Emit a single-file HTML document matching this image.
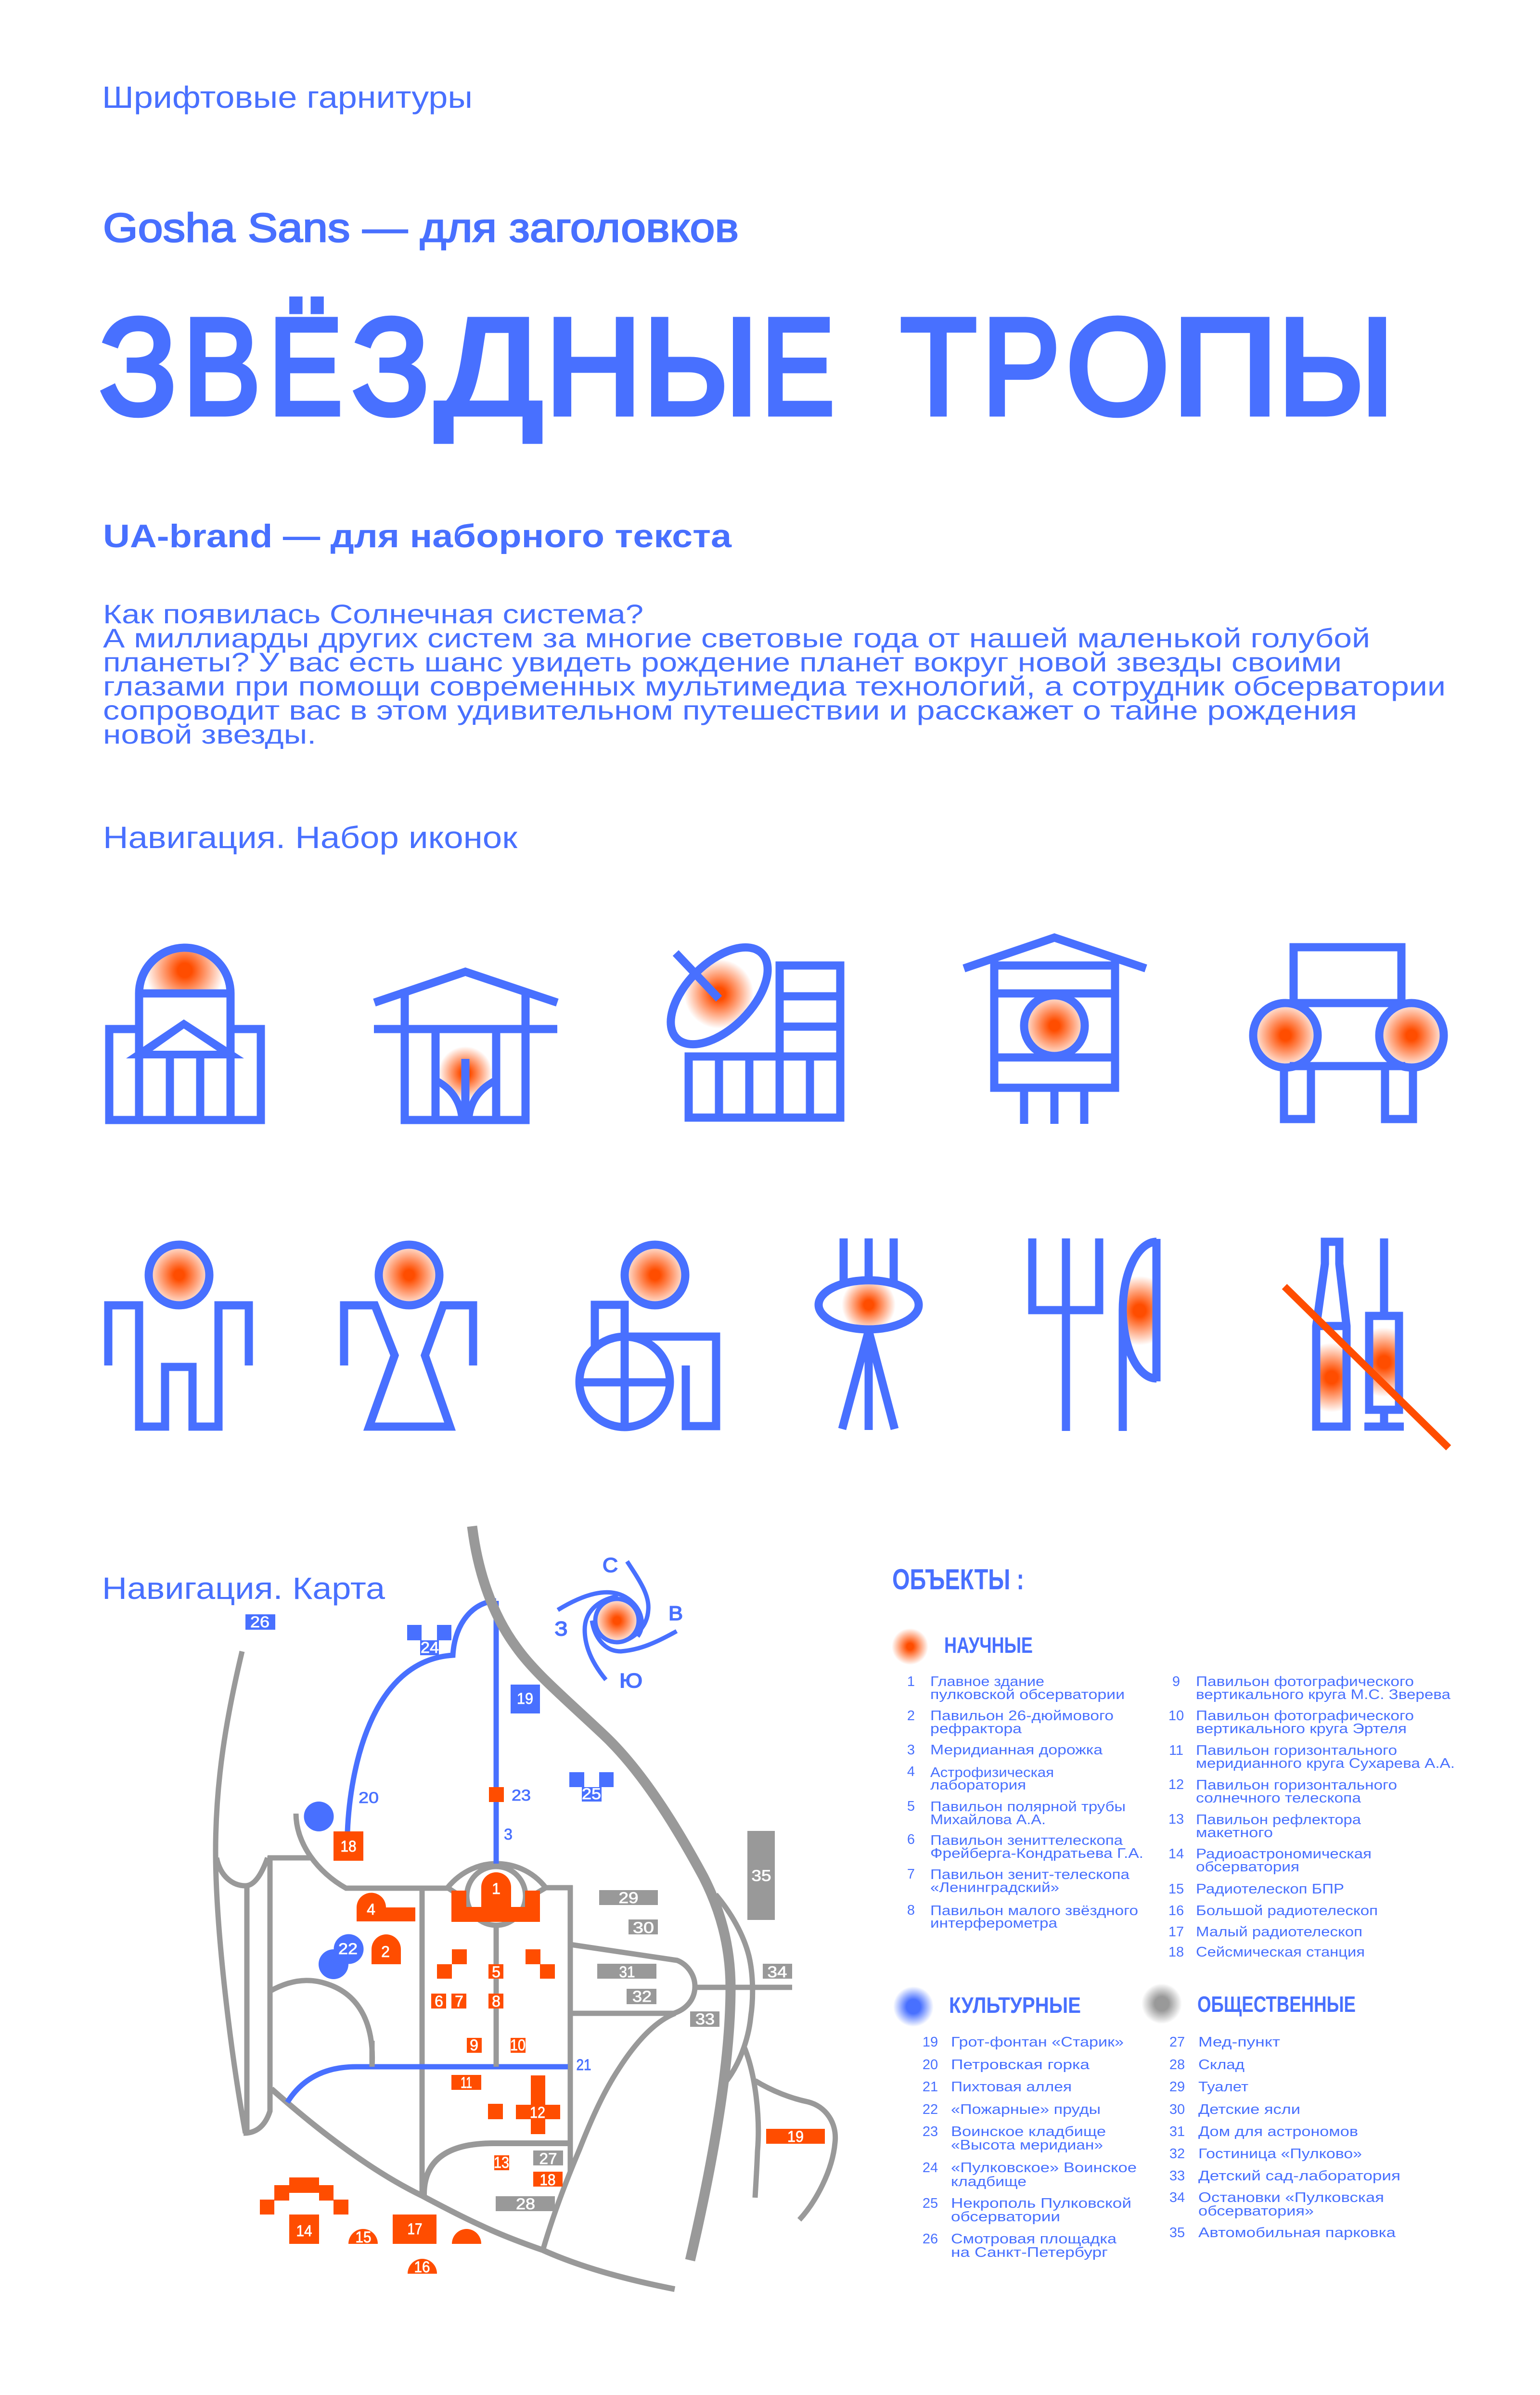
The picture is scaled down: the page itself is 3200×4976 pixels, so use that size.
<!DOCTYPE html>
<html lang="ru"><head><meta charset="utf-8"><title>Звёздные тропы</title>
<style>
html,body{margin:0;padding:0;background:#fff}
svg{display:block;position:absolute;left:0;top:0}
text{font-family:"Liberation Sans","Noto Sans CJK SC",sans-serif;fill:#4870ff}
.w{fill:#fff;font-size:32px;text-anchor:middle;stroke:#fff;stroke-width:.8}
.b{font-size:32px;text-anchor:middle;stroke:#4870ff;stroke-width:.8}
.l{font-size:29px}
.n{font-size:29px;text-anchor:middle}
.p{font-size:56px}
.h{font-weight:bold}
.c{font-size:42px;text-anchor:middle;stroke:#4870ff;stroke-width:1.8}
.t text{font-size:285px;stroke:#4870ff;stroke-width:11}
.i{fill:none;stroke:#4870ff;stroke-width:17}
.g{fill:none;stroke:#999;stroke-width:11}
.o{fill:#ff4d00}.u{fill:#4870ff}.y{fill:#999}
</style></head><body>
<svg xmlns="http://www.w3.org/2000/svg" width="3200" height="4976" viewBox="0 0 3200 4976">
<defs>
<radialGradient id="g"><stop offset="0" stop-color="#ff4d00"/><stop offset=".18" stop-color="#ff4d00"/><stop offset="1" stop-color="#ff4d00" stop-opacity="0"/></radialGradient>
<radialGradient id="gh"><stop offset="0" stop-color="#ff4d00"/><stop offset=".18" stop-color="#ff4d00"/><stop offset="1" stop-color="#ff4d00" stop-opacity=".15"/></radialGradient>
<radialGradient id="gb"><stop offset="0" stop-color="#4870ff"/><stop offset=".35" stop-color="#4870ff"/><stop offset="1" stop-color="#4870ff" stop-opacity="0"/></radialGradient>
<radialGradient id="gg"><stop offset="0" stop-color="#999"/><stop offset=".35" stop-color="#999"/><stop offset="1" stop-color="#999" stop-opacity="0"/></radialGradient>
<clipPath id="cDome"><path d="M289 2060A95 91 0 0 1 479 2060Z"/></clipPath>
<clipPath id="cFount"><path d="M905 2150H1031V2244Q975 2270 967 2327Q959 2270 905 2244Z"/></clipPath>
<clipPath id="cDish"><ellipse cx="1494.5" cy="2069" rx="125" ry="68" transform="rotate(-45 1494.5 2069)"/></clipPath>
<clipPath id="cEye"><ellipse cx="1805" cy="2711" rx="104" ry="51"/></clipPath>
<clipPath id="cKnife"><path d="M2403 2580A70 143 0 0 0 2403 2864Z"/></clipPath>
<clipPath id="cBottle"><rect x="2735" y="2755" width="63" height="209"/></clipPath>
<clipPath id="cSyr"><rect x="2845" y="2734" width="62" height="195"/></clipPath>
</defs>

<!-- headings -->
<text x="212" y="224" font-size="64" textLength="770" lengthAdjust="spacingAndGlyphs">Шрифтовые гарнитуры</text>
<text x="214" y="502" font-size="84" textLength="1321" lengthAdjust="spacingAndGlyphs" stroke="#4870ff" stroke-width="2.5">Gosha Sans — для заголовков</text>
<g class="t"><text transform="translate(206 860) scale(.94 1)">З</text><text transform="translate(380 860) scale(.85 1)">В</text><text transform="translate(558 860) scale(.81 1)">Ё</text><text transform="translate(731 860) scale(.94 1)">З</text><text transform="translate(905 860) scale(1.15 1)">Д</text><text transform="translate(1133 860) scale(.975 1)">Н</text><text transform="translate(1336 860) scale(.95 1)">Ы</text><text transform="translate(1582 860) scale(.8 1)">Е</text> <text transform="translate(1871 860) scale(.91 1)">Т</text><text transform="translate(2041 860) scale(.85 1)">Р</text><text transform="translate(2215 860) scale(.97 1)">О</text><text transform="translate(2435 860) scale(1.08 1)">П</text><text transform="translate(2655 860) scale(.96 1)">Ы</text></g>
<text x="214" y="1137" font-size="68" class="h" textLength="1306" lengthAdjust="spacingAndGlyphs">UA-brand — для наборного текста</text>
<text class="p" x="214" y="1295" textLength="1123" lengthAdjust="spacingAndGlyphs">Как появилась Солнечная система?</text>
<text class="p" x="214" y="1345" textLength="2633" lengthAdjust="spacingAndGlyphs">А миллиарды других систем за многие световые года от нашей маленькой голубой</text>
<text class="p" x="214" y="1395" textLength="2574" lengthAdjust="spacingAndGlyphs">планеты? У вас есть шанс увидеть рождение планет вокруг новой звезды своими</text>
<text class="p" x="214" y="1445" textLength="2790" lengthAdjust="spacingAndGlyphs">глазами при помощи современных мультимедиа технологий, а сотрудник обсерватории</text>
<text class="p" x="214" y="1495" textLength="2606" lengthAdjust="spacingAndGlyphs">сопроводит вас в этом удивительном путешествии и расскажет о тайне рождения</text>
<text class="p" x="214" y="1545" textLength="443" lengthAdjust="spacingAndGlyphs">новой звезды.</text>
<text x="214" y="1762" font-size="64" textLength="861" lengthAdjust="spacingAndGlyphs">Навигация. Набор иконок</text>

<!-- icon 1 -->
<circle cx="384" cy="2016" r="82" fill="url(#g)" clip-path="url(#cDome)"/>
<path class="i" d="M289 2075V2064A95 95 0 0 1 479 2064V2075M281 2064H487M289 2064V2335M479 2064V2335M281 2138H227V2327H542V2138H487M353 2195V2327M416 2195V2327"/>
<path class="u" fill-rule="evenodd" d="M382 2118L507 2199H262ZM382 2137L317 2183H451Z" />
<!-- icon 2 -->
<circle cx="967" cy="2230" r="56" fill="url(#g)" clip-path="url(#cFount)"/>
<path class="i" d="M778 2083L967 2019L1158 2083M777 2138H1158M841 2055V2327H1092V2055M905 2138V2327M1031 2138V2327M967 2200V2327"/>
<path class="i" style="stroke-width:15" d="M905 2244Q955 2270 960 2325M1031 2244Q979 2270 974 2325"/>
<!-- icon 3 -->
<circle cx="1494" cy="2065" r="72" fill="url(#g)" clip-path="url(#cDish)"/>
<ellipse class="i" cx="1494.5" cy="2069" rx="125" ry="68" transform="rotate(-45 1494.5 2069)"/>
<path class="i" d="M1404 1980L1494 2075"/>
<path class="i" d="M1620 2195V2006H1746V2322H1431V2195H1746M1620 2070H1746M1620 2133H1746M1494 2195V2322M1557 2195V2322M1620 2195V2322M1683 2195V2322"/>
<!-- icon 4 -->
<circle cx="2191" cy="2131" r="60" fill="url(#gh)"/>
<path class="i" d="M2003 2012L2191 1948L2381 2012M2066 1990V2260H2317V1990M2066 2006H2317M2066 2064H2317M2066 2197H2317M2128 2260V2335M2191 2260V2335M2253 2260V2335"/>
<circle class="i" cx="2191" cy="2131" r="63"/>
<!-- icon 5 -->
<circle cx="2671" cy="2151" r="62" fill="url(#gh)"/><circle cx="2933" cy="2151" r="62" fill="url(#gh)"/>
<path class="i" d="M2688 2084V1968H2912V2084M2680 2084H2920M2680 2215H2920M2668 2215V2325H2724V2215M2878 2215V2325H2936V2215"/>
<circle class="i" cx="2671" cy="2151" r="67"/><circle class="i" cx="2933" cy="2151" r="67"/>

<!-- row 2: man -->
<circle cx="372" cy="2649" r="60" fill="url(#gh)"/><circle class="i" cx="372" cy="2649" r="63"/>
<path class="i" d="M225 2837V2712H289V2964H343V2840H400V2964H454V2712H517V2837"/>
<!-- woman -->
<circle cx="850" cy="2649" r="60" fill="url(#gh)"/><circle class="i" cx="850" cy="2649" r="63"/>
<path class="i" d="M715 2837V2712H779L820 2816L767 2964H935L883 2816L921 2712H983V2837"/>
<!-- wheelchair -->
<circle cx="1361" cy="2649" r="60" fill="url(#gh)"/><circle class="i" cx="1361" cy="2649" r="63"/>
<circle class="i" cx="1298" cy="2871" r="94"/>
<path class="i" d="M1236 2806V2711H1298V2965M1204 2872H1392M1298 2777H1488V2963H1425V2837"/>
<!-- eye -->
<circle cx="1805" cy="2711" r="56" fill="url(#g)" clip-path="url(#cEye)"/>
<ellipse class="i" cx="1805" cy="2711" rx="104" ry="51"/>
<path class="i" d="M1753 2573V2668M1805 2573V2660M1857 2573V2668M1805 2762V2971M1805 2765L1750 2969M1805 2765L1859 2969"/>
<!-- fork/knife -->
<path class="i" d="M2145 2573V2722H2284V2573M2215 2573V2973"/>
<circle cx="2368" cy="2723" r="72" fill="url(#g)" clip-path="url(#cKnife)"/>
<path class="i" d="M2403 2580A70 143 0 0 0 2333 2723V2973M2333 2723A70 143 0 0 0 2403 2864M2403 2574V2870"/>
<!-- bottle/syringe -->
<circle cx="2767" cy="2862" r="72" fill="url(#g)" clip-path="url(#cBottle)"/>
<circle cx="2876" cy="2830" r="72" fill="url(#g)" clip-path="url(#cSyr)"/>
<path class="i" d="M2753 2580H2783V2626L2798 2755V2964H2735V2755L2753 2626ZM2735 2755H2798"/>
<path class="i" d="M2876 2573V2734M2845 2734H2907V2929H2845ZM2876 2929V2964M2835 2964H2917"/>
<path d="M2669 2673L3010 3008" stroke="#ff4d00" stroke-width="15" fill="none"/>

<!-- map: roads -->
<text x="212" y="3322" font-size="64" textLength="588" lengthAdjust="spacingAndGlyphs">Навигация. Карта</text>
<path class="g" d="M503 3431C470 3570 448 3700 448 3846C448 4010 480 4270 510 4432"/>
<path class="g" d="M450 3860C458 3900 485 3918 510 3918C530 3918 545 3890 556 3860"/>
<path class="g" d="M513 3918V4435M561 3856V4386C550 4420 530 4432 506 4432"/>
<path class="g" d="M556 3860H645M615 3768C615 3830 660 3890 719 3923H931"/>
<path class="g" d="M930 3922C960 3885 1000 3872 1031 3872C1065 3872 1105 3885 1134 3922H1190M930 3922L950 3935M1134 3922L1112 3935"/>
<circle class="g" cx="1031" cy="3939" r="61"/>
<path class="g" d="M1185 3917V4512M877 3923V4562M1031 4000V4294"/>
<path class="g" d="M561 4137C600 4115 640 4108 680 4122C750 4145 778 4210 773 4294"/>
<path class="g" style="stroke-width:12" d="M564 4340C660 4425 770 4510 877 4562C920 4585 960 4606 1000 4624C1040 4643 1085 4660 1128 4675C1210 4712 1310 4738 1402 4756"/>
<path class="g" style="stroke-width:12" d="M881 4562C880 4500 915 4453 1024 4453H1185"/>
<path class="g" d="M1128 4675C1150 4600 1175 4535 1204 4466C1230 4400 1255 4345 1286 4298C1320 4245 1360 4200 1403 4183"/>
<path class="g" d="M1185 4040L1407 4073C1430 4082 1444 4105 1444 4127C1444 4155 1425 4175 1400 4183H1185M1444 4129H1646"/>
<path class="g" d="M1487 3936C1520 3975 1545 4020 1556 4063C1565 4100 1566 4150 1560 4190C1555 4240 1535 4290 1510 4323"/>
<path class="g" d="M1546 4252C1570 4310 1580 4400 1574 4470C1573 4500 1571 4530 1569 4566"/>
<path class="g" d="M1569 4323C1605 4345 1645 4360 1679 4367C1715 4376 1740 4410 1735 4452C1730 4510 1695 4575 1661 4612"/>
<!-- blue paths -->
<path class="g" style="stroke:#4870ff" d="M722 3806C727 3680 770 3450 941 3439C945 3370 985 3328 1031 3326"/>
<path class="g" style="stroke:#4870ff" d="M1031 3326V3872"/>
<path class="g" style="stroke:#4870ff" d="M1180 4294H740C680 4294 630 4315 597 4368"/>
<path class="g" d="M773 4240V4294M1031 4240V4294"/>
<path class="g" style="stroke-width:21" d="M981 3171C992 3260 1020 3350 1072 3421C1110 3475 1170 3525 1253 3603C1330 3675 1400 3785 1462 3900C1495 3965 1518 4040 1518 4130C1518 4300 1475 4520 1434 4696"/>

<!-- compass -->
<circle cx="1282" cy="3367" r="43" fill="url(#gh)"/>
<g fill="none" stroke="#4870ff" stroke-width="9">
<circle cx="1282" cy="3367" r="45"/>
<path d="M1159 3345C1200 3320 1270 3285 1315 3330C1335 3350 1340 3380 1325 3400"/>
<path d="M1303 3244C1330 3285 1350 3315 1347 3345C1345 3380 1320 3400 1300 3408"/>
<path d="M1406 3389C1365 3412 1330 3428 1290 3431C1255 3431 1235 3400 1230 3367"/>
<path d="M1259 3490C1230 3455 1215 3420 1215 3386C1215 3350 1240 3325 1284 3316"/>
</g>
<text class="c" x="1268" y="3266" textLength="32" lengthAdjust="spacingAndGlyphs">С</text>
<text class="c" x="1404" y="3366" textLength="30" lengthAdjust="spacingAndGlyphs">В</text>
<text class="c" x="1166" y="3398" textLength="27" lengthAdjust="spacingAndGlyphs">З</text>
<text class="c" x="1311" y="3506" textLength="48" lengthAdjust="spacingAndGlyphs">Ю</text>

<!-- orange objects -->
<g class="o">
<rect x="1016" y="3713" width="31" height="31"/>
<rect x="693" y="3805" width="62" height="61"/>
<path d="M1000 3921A31 31 0 0 1 1062 3921V3962H1091V3928H1122V3993H938V3928H969V3962H1000Z"/>
<path d="M741 3963A30.5 30.5 0 0 1 802 3963H863V3992H741Z"/>
<path d="M772 4050A30.5 31 0 0 1 833 4050V4081H772Z"/>
<rect x="939" y="4050" width="31" height="31"/><rect x="908" y="4081" width="31" height="30"/>
<rect x="1092" y="4050" width="31" height="31"/><rect x="1122" y="4081" width="31" height="30"/>
<rect x="1015" y="4081" width="31" height="30"/>
<rect x="896" y="4142" width="31" height="31"/><rect x="938" y="4142" width="31" height="31"/><rect x="1015" y="4142" width="31" height="31"/>
<rect x="970" y="4234" width="31" height="31"/><rect x="1061" y="4234" width="31" height="31"/>
<rect x="938" y="4311" width="62" height="31"/>
<path d="M1103 4312H1133V4373H1164V4403H1133V4434H1103V4403H1072V4373H1103Z"/>
<rect x="1014" y="4371" width="31" height="32"/>
<rect x="1027" y="4478" width="31" height="31"/>
<rect x="1108" y="4512" width="61" height="31"/>
<path d="M601 4524H663V4540H693V4570H724V4601H693V4572H663V4556H601V4572H570V4601H540V4570H570V4540H601Z"/>
<rect x="601" y="4601" width="62" height="61"/>
<path d="M724 4662A30.5 31 0 0 1 785 4662Z"/>
<rect x="816" y="4601" width="91" height="61"/>
<path d="M939 4662A30.5 31 0 0 1 1000 4662Z"/>
<path d="M847 4724A30.5 31 0 0 1 908 4724Z"/>
<rect x="1592" y="4423" width="122" height="31"/>
</g>
<!-- blue objects -->
<g class="u">
<rect x="510" y="3354" width="62" height="32"/>
<rect x="846" y="3376" width="30" height="32"/><rect x="908" y="3376" width="30" height="32"/><rect x="873" y="3408" width="39" height="31"/>
<rect x="1061" y="3500" width="61" height="60"/>
<rect x="1183" y="3682" width="31" height="31"/><rect x="1245" y="3682" width="30" height="31"/><rect x="1209" y="3713" width="41" height="30"/>
<circle cx="662.5" cy="3774" r="31"/><circle cx="724.5" cy="4049.5" r="31"/><circle cx="693" cy="4081" r="31"/>
</g>
<!-- grey objects -->
<g class="y">
<rect x="1245" y="3927" width="122" height="31"/>
<rect x="1306" y="3988" width="61" height="31"/>
<rect x="1241" y="4080" width="123" height="31"/>
<rect x="1302" y="4132" width="62" height="32"/>
<rect x="1434" y="4179" width="61" height="32"/>
<rect x="1585" y="4080" width="61" height="31"/>
<rect x="1553" y="3804" width="57" height="185"/>
<rect x="1108" y="4468" width="62" height="31"/>
<rect x="1030" y="4563" width="123" height="31"/>
</g>
<!-- map labels -->
<text class="w" x="1031" y="3935">1</text><text class="w" x="801" y="4066">2</text><text class="w" x="771" y="3978">4</text>
<text class="w" x="1031" y="4108">5</text><text class="w" x="912" y="4169">6</text><text class="w" x="954" y="4169">7</text><text class="w" x="1031" y="4169">8</text>
<text class="w" x="985" y="4260">9</text><text class="w" x="1076" y="4260" textLength="32" lengthAdjust="spacingAndGlyphs">10</text><text class="w" x="969" y="4338" textLength="24" lengthAdjust="spacingAndGlyphs">11</text><text class="w" x="1117" y="4400" textLength="32" lengthAdjust="spacingAndGlyphs">12</text>
<text class="w" x="1042" y="4504" textLength="32" lengthAdjust="spacingAndGlyphs">13</text><text class="w" x="632" y="4646" textLength="33" lengthAdjust="spacingAndGlyphs">14</text><text class="w" x="755" y="4659" textLength="33" lengthAdjust="spacingAndGlyphs">15</text><text class="w" x="877" y="4721" textLength="33" lengthAdjust="spacingAndGlyphs">16</text><text class="w" x="862" y="4642" textLength="31" lengthAdjust="spacingAndGlyphs">17</text>
<text class="w" x="724" y="3847" textLength="33" lengthAdjust="spacingAndGlyphs">18</text><text class="w" x="1138" y="4540" textLength="33" lengthAdjust="spacingAndGlyphs">18</text>
<text class="w" x="1091" y="3540" textLength="34" lengthAdjust="spacingAndGlyphs">19</text><text class="w" x="1653" y="4450" textLength="34" lengthAdjust="spacingAndGlyphs">19</text>
<text class="w" x="723" y="4060" textLength="40" lengthAdjust="spacingAndGlyphs">22</text><text class="w" x="893" y="3434" textLength="38" lengthAdjust="spacingAndGlyphs">24</text><text class="w" x="1229" y="3738" textLength="40" lengthAdjust="spacingAndGlyphs">25</text><text class="w" x="540" y="3381" textLength="40" lengthAdjust="spacingAndGlyphs">26</text>
<text class="w" x="1139" y="4496" textLength="37" lengthAdjust="spacingAndGlyphs">27</text><text class="w" x="1092" y="4590" textLength="40" lengthAdjust="spacingAndGlyphs">28</text><text class="w" x="1306" y="3954" textLength="41" lengthAdjust="spacingAndGlyphs">29</text><text class="w" x="1337" y="4016" textLength="44" lengthAdjust="spacingAndGlyphs">30</text>
<text class="w" x="1303" y="4108" textLength="33" lengthAdjust="spacingAndGlyphs">31</text><text class="w" x="1334" y="4159" textLength="40" lengthAdjust="spacingAndGlyphs">32</text><text class="w" x="1465" y="4206" textLength="40" lengthAdjust="spacingAndGlyphs">33</text><text class="w" x="1615" y="4108" textLength="41" lengthAdjust="spacingAndGlyphs">34</text><text class="w" x="1582" y="3908" textLength="41" lengthAdjust="spacingAndGlyphs">35</text>
<text class="b" x="766" y="3746" textLength="42" lengthAdjust="spacingAndGlyphs">20</text><text class="b" x="1083" y="3741" textLength="40" lengthAdjust="spacingAndGlyphs">23</text><text class="b" x="1056" y="3822">3</text><text class="b" x="1213" y="4301" textLength="31" lengthAdjust="spacingAndGlyphs">21</text>

<!-- legend -->
<text x="1854" y="3302" font-size="60" class="h" textLength="274" lengthAdjust="spacingAndGlyphs">ОБЪЕКТЫ :</text>
<circle cx="1891" cy="3421" r="38" fill="url(#g)"/>
<text x="1962" y="3434" font-size="46" class="h" textLength="184" lengthAdjust="spacingAndGlyphs">НАУЧНЫЕ</text>
<circle cx="1898" cy="4169" r="42" fill="url(#gb)"/>
<text x="1972" y="4182" font-size="46" class="h" textLength="274" lengthAdjust="spacingAndGlyphs">КУЛЬТУРНЫЕ</text>
<circle cx="2414" cy="4163" r="42" fill="url(#gg)"/>
<text x="2488" y="4180" font-size="46" class="h" textLength="329" lengthAdjust="spacingAndGlyphs">ОБЩЕСТВЕННЫЕ</text>

<text class="n" x="1893" y="3503">1</text><text class="l" x="1933" y="3503" textLength="237" lengthAdjust="spacingAndGlyphs">Главное здание</text><text class="l" x="1933" y="3530" textLength="404" lengthAdjust="spacingAndGlyphs">пулковской обсерватории</text>
<text class="n" x="1893" y="3574">2</text><text class="l" x="1933" y="3574" textLength="381" lengthAdjust="spacingAndGlyphs">Павильон 26-дюймового</text><text class="l" x="1933" y="3601" textLength="190" lengthAdjust="spacingAndGlyphs">рефрактора</text>
<text class="n" x="1893" y="3645">3</text><text class="l" x="1933" y="3645" textLength="358" lengthAdjust="spacingAndGlyphs">Меридианная дорожка</text>
<text class="n" x="1893" y="3690">4</text><text class="l" x="1933" y="3692" textLength="257" lengthAdjust="spacingAndGlyphs">Астрофизическая</text><text class="l" x="1933" y="3718" textLength="199" lengthAdjust="spacingAndGlyphs">лаборатория</text>
<text class="n" x="1893" y="3762">5</text><text class="l" x="1933" y="3763" textLength="406" lengthAdjust="spacingAndGlyphs">Павильон полярной трубы</text><text class="l" x="1933" y="3790" textLength="240" lengthAdjust="spacingAndGlyphs">Михайлова А.А.</text>
<text class="n" x="1893" y="3831">6</text><text class="l" x="1933" y="3833" textLength="400" lengthAdjust="spacingAndGlyphs">Павильон зениттелескопа</text><text class="l" x="1933" y="3860" textLength="443" lengthAdjust="spacingAndGlyphs">Фрейберга-Кондратьева Г.А.</text>
<text class="n" x="1893" y="3903">7</text><text class="l" x="1933" y="3904" textLength="414" lengthAdjust="spacingAndGlyphs">Павильон зенит-телескопа</text><text class="l" x="1933" y="3931" textLength="268" lengthAdjust="spacingAndGlyphs">«Ленинградский»</text>
<text class="n" x="1893" y="3978">8</text><text class="l" x="1933" y="3979" textLength="432" lengthAdjust="spacingAndGlyphs">Павильон малого звёздного</text><text class="l" x="1933" y="4005" textLength="264" lengthAdjust="spacingAndGlyphs">интерферометра</text>

<text class="n" x="2444" y="3503">9</text><text class="l" x="2485" y="3503" textLength="453" lengthAdjust="spacingAndGlyphs">Павильон фотографического</text><text class="l" x="2485" y="3530" textLength="529" lengthAdjust="spacingAndGlyphs">вертикального круга М.С. Зверева</text>
<text class="n" x="2444" y="3574">10</text><text class="l" x="2485" y="3574" textLength="453" lengthAdjust="spacingAndGlyphs">Павильон фотографического</text><text class="l" x="2485" y="3601" textLength="438" lengthAdjust="spacingAndGlyphs">вертикального круга Эртеля</text>
<text class="n" x="2444" y="3646">11</text><text class="l" x="2485" y="3646" textLength="418" lengthAdjust="spacingAndGlyphs">Павильон горизонтального</text><text class="l" x="2485" y="3673" textLength="538" lengthAdjust="spacingAndGlyphs">меридианного круга Сухарева А.А.</text>
<text class="n" x="2444" y="3717">12</text><text class="l" x="2485" y="3718" textLength="418" lengthAdjust="spacingAndGlyphs">Павильон горизонтального</text><text class="l" x="2485" y="3745" textLength="343" lengthAdjust="spacingAndGlyphs">солнечного телескопа</text>
<text class="n" x="2444" y="3789">13</text><text class="l" x="2485" y="3790" textLength="343" lengthAdjust="spacingAndGlyphs">Павильон рефлектора</text><text class="l" x="2485" y="3817" textLength="160" lengthAdjust="spacingAndGlyphs">макетного</text>
<text class="n" x="2444" y="3861">14</text><text class="l" x="2485" y="3861" textLength="365" lengthAdjust="spacingAndGlyphs">Радиоастрономическая</text><text class="l" x="2485" y="3888" textLength="215" lengthAdjust="spacingAndGlyphs">обсерватория</text>
<text class="n" x="2444" y="3934">15</text><text class="l" x="2485" y="3934" textLength="308" lengthAdjust="spacingAndGlyphs">Радиотелескоп БПР</text>
<text class="n" x="2444" y="3979">16</text><text class="l" x="2485" y="3979" textLength="378" lengthAdjust="spacingAndGlyphs">Большой радиотелескоп</text>
<text class="n" x="2444" y="4023">17</text><text class="l" x="2485" y="4023" textLength="346" lengthAdjust="spacingAndGlyphs">Малый радиотелескоп</text>
<text class="n" x="2444" y="4065">18</text><text class="l" x="2485" y="4065" textLength="351" lengthAdjust="spacingAndGlyphs">Сейсмическая станция</text>

<text class="n" x="1933" y="4252">19</text><text class="l" x="1976" y="4252" textLength="359" lengthAdjust="spacingAndGlyphs">Грот-фонтан «Старик»</text>
<text class="n" x="1933" y="4299">20</text><text class="l" x="1976" y="4299" textLength="288" lengthAdjust="spacingAndGlyphs">Петровская горка</text>
<text class="n" x="1933" y="4345">21</text><text class="l" x="1976" y="4345" textLength="251" lengthAdjust="spacingAndGlyphs">Пихтовая аллея</text>
<text class="n" x="1933" y="4392">22</text><text class="l" x="1976" y="4392" textLength="311" lengthAdjust="spacingAndGlyphs">«Пожарные» пруды</text>
<text class="n" x="1933" y="4438">23</text><text class="l" x="1976" y="4438" textLength="322" lengthAdjust="spacingAndGlyphs">Воинское кладбище</text><text class="l" x="1976" y="4466" textLength="316" lengthAdjust="spacingAndGlyphs">«Высота меридиан»</text>
<text class="n" x="1933" y="4513">24</text><text class="l" x="1976" y="4513" textLength="386" lengthAdjust="spacingAndGlyphs">«Пулковское» Воинское</text><text class="l" x="1976" y="4542" textLength="157" lengthAdjust="spacingAndGlyphs">кладбище</text>
<text class="n" x="1933" y="4587">25</text><text class="l" x="1976" y="4587" textLength="375" lengthAdjust="spacingAndGlyphs">Некрополь Пулковской</text><text class="l" x="1976" y="4615" textLength="227" lengthAdjust="spacingAndGlyphs">обсерватории</text>
<text class="n" x="1933" y="4661">26</text><text class="l" x="1976" y="4661" textLength="344" lengthAdjust="spacingAndGlyphs">Смотровая площадка</text><text class="l" x="1976" y="4689" textLength="326" lengthAdjust="spacingAndGlyphs">на Санкт-Петербург</text>

<text class="n" x="2446" y="4252">27</text><text class="l" x="2490" y="4252" textLength="170" lengthAdjust="spacingAndGlyphs">Мед-пункт</text>
<text class="n" x="2446" y="4299">28</text><text class="l" x="2490" y="4299" textLength="96" lengthAdjust="spacingAndGlyphs">Склад</text>
<text class="n" x="2446" y="4345">29</text><text class="l" x="2490" y="4345" textLength="104" lengthAdjust="spacingAndGlyphs">Туалет</text>
<text class="n" x="2446" y="4392">30</text><text class="l" x="2490" y="4392" textLength="212" lengthAdjust="spacingAndGlyphs">Детские ясли</text>
<text class="n" x="2446" y="4438">31</text><text class="l" x="2490" y="4438" textLength="332" lengthAdjust="spacingAndGlyphs">Дом для астрономов</text>
<text class="n" x="2446" y="4484">32</text><text class="l" x="2490" y="4484" textLength="340" lengthAdjust="spacingAndGlyphs">Гостиница «Пулково»</text>
<text class="n" x="2446" y="4530">33</text><text class="l" x="2490" y="4530" textLength="420" lengthAdjust="spacingAndGlyphs">Детский сад-лаборатория</text>
<text class="n" x="2446" y="4575">34</text><text class="l" x="2490" y="4575" textLength="386" lengthAdjust="spacingAndGlyphs">Остановки «Пулковская</text><text class="l" x="2490" y="4603" textLength="240" lengthAdjust="spacingAndGlyphs">обсерватория»</text>
<text class="n" x="2446" y="4648">35</text><text class="l" x="2490" y="4648" textLength="410" lengthAdjust="spacingAndGlyphs">Автомобильная парковка</text>
</svg>
</body></html>
